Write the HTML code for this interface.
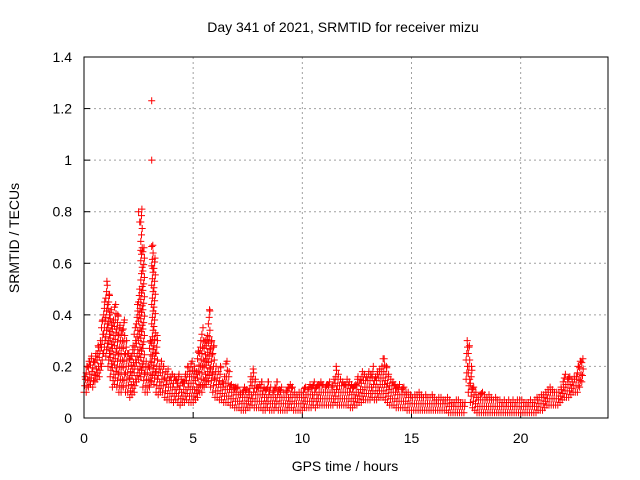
<!DOCTYPE html>
<html><head><meta charset="utf-8"><style>
html,body{margin:0;padding:0;background:#fff;}
svg{display:block;font-family:"Liberation Sans",sans-serif;}
</style></head><body>
<svg id="chart" width="640" height="480">
<text x="343" y="32" font-size="14" text-anchor="middle">Day 341 of 2021, SRMTID for receiver mizu</text>
<text x="345" y="471" font-size="14" text-anchor="middle">GPS time / hours</text>
<text transform="translate(19,238) rotate(-90)" font-size="14" text-anchor="middle">SRMTID / TECUs</text>
<g id="grid"></g>
<g id="ticks"></g>
<g id="points"></g>
<rect x="84" y="57" width="524" height="361" fill="none" stroke="#000" stroke-width="1"/>
</svg>
<script>
const xTicks=[0,5,10,15,20];
const yTicks=[0,0.2,0.4,0.6,0.8,1,1.2,1.4];
const yTickLabels=["0","0.2","0.4","0.6","0.8","1","1.2","1.4"];
const tStep=0.1;
const hi=[0.16,0.2,0.22,0.24,0.22,0.25,0.28,0.3,0.38,0.45,
0.53,0.48,0.42,0.38,0.44,0.4,0.36,0.34,0.38,0.3,
0.25,0.24,0.28,0.35,0.44,0.5,0.81,0.66,0.22,0.2,
0.3,0.67,0.62,0.32,0.2,0.22,0.2,0.18,0.19,0.16,
0.17,0.16,0.15,0.17,0.15,0.14,0.17,0.2,0.18,0.22,
0.2,0.18,0.26,0.3,0.35,0.3,0.32,0.42,0.3,0.28,
0.2,0.18,0.2,0.14,0.16,0.22,0.18,0.13,0.12,0.12,
0.12,0.1,0.1,0.12,0.11,0.1,0.16,0.19,0.15,0.12,
0.13,0.14,0.12,0.11,0.14,0.12,0.1,0.12,0.14,0.11,
0.12,0.1,0.1,0.12,0.13,0.12,0.1,0.09,0.1,0.1,
0.1,0.12,0.11,0.13,0.12,0.14,0.12,0.13,0.14,0.13,
0.12,0.13,0.14,0.12,0.15,0.2,0.17,0.15,0.14,0.13,
0.15,0.14,0.13,0.12,0.13,0.16,0.15,0.18,0.17,0.16,
0.18,0.17,0.2,0.16,0.18,0.19,0.2,0.23,0.2,0.17,
0.15,0.14,0.13,0.12,0.13,0.11,0.12,0.1,0.1,0.09,
0.08,0.09,0.09,0.1,0.09,0.08,0.09,0.08,0.08,0.09,
0.08,0.07,0.08,0.08,0.07,0.07,0.08,0.07,0.06,0.06,
0.07,0.07,0.06,0.06,0.06,0.3,0.28,0.2,0.12,0.1,
0.08,0.09,0.1,0.09,0.08,0.09,0.08,0.07,0.08,0.07,
0.07,0.06,0.07,0.06,0.07,0.06,0.07,0.06,0.07,0.07,
0.07,0.06,0.06,0.06,0.07,0.06,0.07,0.08,0.08,0.09,
0.09,0.1,0.11,0.12,0.11,0.1,0.1,0.1,0.12,0.14,
0.17,0.15,0.16,0.15,0.16,0.16,0.2,0.22,0.23];
const lo=[0.1,0.1,0.12,0.13,0.12,0.14,0.15,0.16,0.2,0.25,
0.24,0.2,0.16,0.12,0.13,0.12,0.1,0.1,0.12,0.1,
0.1,0.08,0.09,0.1,0.14,0.15,0.16,0.12,0.1,0.1,
0.12,0.14,0.13,0.1,0.09,0.1,0.1,0.08,0.07,0.07,
0.07,0.06,0.07,0.06,0.05,0.06,0.06,0.07,0.06,0.06,
0.06,0.07,0.08,0.1,0.1,0.12,0.13,0.14,0.12,0.1,
0.08,0.08,0.07,0.07,0.06,0.06,0.06,0.05,0.05,0.04,
0.04,0.04,0.03,0.03,0.03,0.04,0.04,0.05,0.04,0.04,
0.04,0.04,0.03,0.03,0.04,0.03,0.03,0.03,0.04,0.03,
0.03,0.03,0.03,0.03,0.04,0.04,0.03,0.03,0.03,0.03,
0.03,0.04,0.04,0.04,0.04,0.05,0.04,0.05,0.05,0.05,
0.05,0.05,0.05,0.05,0.05,0.06,0.05,0.05,0.05,0.05,
0.05,0.05,0.04,0.04,0.05,0.05,0.06,0.06,0.07,0.07,
0.07,0.07,0.08,0.07,0.07,0.08,0.08,0.08,0.07,0.06,
0.05,0.05,0.05,0.04,0.04,0.04,0.04,0.04,0.03,0.03,
0.03,0.03,0.03,0.03,0.03,0.03,0.03,0.03,0.03,0.03,
0.03,0.03,0.03,0.03,0.03,0.03,0.03,0.02,0.02,0.02,
0.02,0.02,0.02,0.02,0.02,0.15,0.1,0.06,0.04,0.03,
0.02,0.02,0.02,0.02,0.02,0.02,0.02,0.02,0.02,0.02,
0.02,0.02,0.02,0.02,0.02,0.02,0.02,0.02,0.02,0.02,
0.02,0.02,0.02,0.02,0.02,0.02,0.02,0.02,0.03,0.03,
0.03,0.04,0.05,0.05,0.05,0.05,0.05,0.05,0.06,0.07,
0.08,0.08,0.08,0.09,0.1,0.1,0.1,0.12,0.14];
const outlierT=[3.1,3.1,2.5,2.55,2.6,3.15];
const outlierV=[1.23,1.0,0.8,0.76,0.65,0.58];

const NS="http://www.w3.org/2000/svg";
const L=84,R=608,T=57,B=418,XMAX=24,YMAX=1.4;
function xs(t){return L+(t/XMAX)*(R-L);}
function ys(v){return B-(v/YMAX)*(B-T);}
const grid=document.getElementById('grid'),ticks=document.getElementById('ticks'),pts=document.getElementById('points');
function mk(tag,attrs,parent){const e=document.createElementNS(NS,tag);for(const k in attrs)e.setAttribute(k,attrs[k]);parent.appendChild(e);return e;}
xTicks.forEach((t,i)=>{
  const x=xs(t);
  if(i>0){const g=mk('line',{x1:x,y1:T,x2:x,y2:B,stroke:'#a0a0a0','stroke-dasharray':'2,3'},grid);
  
  }
  const tk=mk('line',{x1:x,y1:B,x2:x,y2:B-6,stroke:'#000'},ticks);
  
  
  const tx=mk('text',{x:x,y:B+25,'font-size':14,'text-anchor':'middle'},ticks);
  tx.textContent=String(t);
  
  
});
yTicks.forEach((v,i)=>{
  const y=ys(v);
  if(i>0&&i<yTicks.length-1){const g=mk('line',{x1:L,y1:y,x2:R,y2:y,stroke:'#a0a0a0','stroke-dasharray':'2,3'},grid);
  
  }
  const tk=mk('line',{x1:L,y1:y,x2:L+6,y2:y,stroke:'#000'},ticks);
  
  
  const tx=mk('text',{x:L-12,y:y+5,'font-size':14,'text-anchor':'end'},ticks);
  tx.textContent=yTickLabels[i];
  
  
});
let d='';
function plus(t,v){const x=xs(t),y=ys(v);d+=`M${(x-3.5).toFixed(1)} ${y.toFixed(1)}h7M${x.toFixed(1)} ${(y-3.5).toFixed(1)}v7`;}
for(let i=0;i<hi.length;i++){
  const t=i*tStep;
  let k=0;
  for(let v=lo[i];v<hi[i];v+=0.025){plus(t+(k%3)*0.033,v);k++;}
  plus(t+0.05,hi[i]);
}
for(let j=0;j<outlierT.length;j++)plus(outlierT[j],outlierV[j]);
const p=mk('path',{d:d,stroke:'#ff0000','stroke-width':1,fill:'none'},pts);


</script>
</body></html>
